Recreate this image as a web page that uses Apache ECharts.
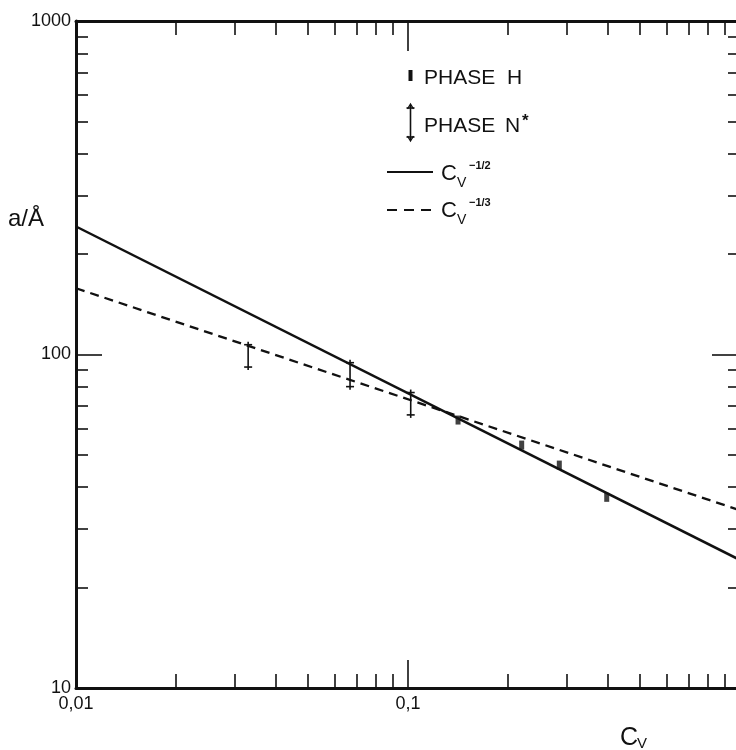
<!DOCTYPE html>
<html>
<head>
<meta charset="utf-8">
<script src="https://cdn.jsdelivr.net/npm/echarts@6/dist/echarts.min.js"></script>
<style>
  html, body { margin: 0; padding: 0; background: #fff; }
  #chart { width: 736px; height: 750px; }
</style>
</head>
<body>
<div id="chart"></div>
<script>
// ---- data ----
const xMinorTicks = [0.02, 0.03, 0.04, 0.05, 0.06, 0.07, 0.08, 0.09,
                     0.2, 0.3, 0.4, 0.5, 0.6, 0.7, 0.8, 0.9];
const xMajorTicks = [0.01, 0.1, 1];
const xLabelValues = [0.01, 0.1];
const xLabelTexts = ['0,01', '0,1'];

const yMinorTicks = [20, 30, 40, 50, 60, 70, 80, 90,
                     200, 300, 400, 500, 600, 700, 800, 900];
const yMajorTicks = [10, 100, 1000];
const yLabelValues = [10, 100, 1000];
const yLabelTexts = ['10', '100', '1000'];

// Phase H points [Cv, a]
const phaseH = [[0.1415, 63.6], [0.220, 53.5], [0.2856, 46.6], [0.3968, 37.3]];
// Phase N* error bars [Cv, low, high]
const phaseN = [[0.0330, 91.7, 107], [0.0669, 80.1, 94.5], [0.1019, 65.9, 76.9]];
// Reference lines (endpoints read at Cv = 0.01 and Cv = 1)
const lineHalf = [[0.01, 242], [1, 24.2]];
const lineThird = [[0.01, 158], [1, 34.1]];

// ---- chart ----
const INK = '#111';
const FONT = 'Liberation Sans, Arial, sans-serif';

function nearestText(v, values, texts) {
  let best = 0, bd = Infinity;
  values.forEach((t, i) => { const d = Math.abs(Math.log10(v) - Math.log10(t)); if (d < bd) { bd = d; best = i; } });
  return texts[best];
}

function mkAxis(pos, ticks, len, lineShow, labelValues, labelTexts, isX) {
  const ax = {
    type: 'log', logBase: 10, position: pos,
    min: isX ? 0.01 : 10, max: isX ? 1 : 1000,
    axisLine: { show: lineShow, onZero: false, lineStyle: { color: INK, width: 3 } },
    axisTick: { show: true, inside: true, length: len, customValues: ticks,
                lineStyle: { color: INK, width: 1.6 } },
    splitLine: { show: false },
    minorTick: { show: false }, minorSplitLine: { show: false },
    axisLabel: { show: false }
  };
  if (labelValues) {
    ax.axisLabel = {
      show: true, customValues: labelValues,
      formatter: v => nearestText(v, labelValues, labelTexts),
      color: INK, fontSize: 18, fontFamily: FONT,
      margin: isX ? 7 : 5
    };
  }
  return ax;
}

const chart = echarts.init(document.getElementById('chart'), null, { renderer: 'canvas' });

const legendGraphics = [
  // PHASE H
  { type: 'rect', shape: { x: 408.5, y: 70, width: 4, height: 11 }, style: { fill: INK } },
  { type: 'text', x: 424, y: 78, style: { text: 'PHASE', font: '21px ' + FONT, fill: INK, verticalAlign: 'middle' } },
  { type: 'text', x: 507, y: 78, style: { text: 'H', font: '21px ' + FONT, fill: INK, verticalAlign: 'middle' } },
  // PHASE N*
  { type: 'line', shape: { x1: 410.5, y1: 105, x2: 410.5, y2: 140 }, style: { stroke: INK, lineWidth: 1.6 } },
  { type: 'line', shape: { x1: 406.5, y1: 108, x2: 414.5, y2: 108 }, style: { stroke: INK, lineWidth: 1.6 } },
  { type: 'line', shape: { x1: 406.5, y1: 137, x2: 414.5, y2: 137 }, style: { stroke: INK, lineWidth: 1.6 } },
  { type: 'polyline', shape: { points: [[407.5, 109], [410.5, 104], [413.5, 109]] }, style: { stroke: INK, lineWidth: 1.4, fill: null } },
  { type: 'polyline', shape: { points: [[407.5, 136], [410.5, 141], [413.5, 136]] }, style: { stroke: INK, lineWidth: 1.4, fill: null } },
  { type: 'text', x: 424, y: 126, style: { text: 'PHASE', font: '21px ' + FONT, fill: INK, verticalAlign: 'middle' } },
  { type: 'text', x: 505, y: 126, style: { text: 'N', font: '21px ' + FONT, fill: INK, verticalAlign: 'middle' } },
  { type: 'text', x: 522, y: 121, style: { text: '*', font: 'bold 17px ' + FONT, fill: INK, verticalAlign: 'middle' } },
  // Cv^-1/2
  { type: 'line', shape: { x1: 387, y1: 172, x2: 433, y2: 172 }, style: { stroke: INK, lineWidth: 2.2 } },
  { type: 'text', x: 441, y: 174, style: { text: 'C', font: '22px ' + FONT, fill: INK, verticalAlign: 'middle' } },
  { type: 'text', x: 457, y: 183, style: { text: 'V', font: '14px ' + FONT, fill: INK, verticalAlign: 'middle' } },
  { type: 'text', x: 469, y: 166, style: { text: '−1/2', font: 'bold 11px ' + FONT, fill: INK, verticalAlign: 'middle' } },
  // Cv^-1/3
  { type: 'line', shape: { x1: 387, y1: 210, x2: 433, y2: 210 }, style: { stroke: INK, lineWidth: 2.2, lineDash: [10, 7] } },
  { type: 'text', x: 441, y: 211, style: { text: 'C', font: '22px ' + FONT, fill: INK, verticalAlign: 'middle' } },
  { type: 'text', x: 457, y: 220, style: { text: 'V', font: '14px ' + FONT, fill: INK, verticalAlign: 'middle' } },
  { type: 'text', x: 469, y: 203, style: { text: '−1/3', font: 'bold 11px ' + FONT, fill: INK, verticalAlign: 'middle' } },
  // axis titles
  { type: 'text', x: 8, y: 219, style: { text: 'a/Å', font: '24px ' + FONT, fill: INK, verticalAlign: 'middle' } },
  { type: 'text', x: 620, y: 738, style: { text: 'C', font: '25px ' + FONT, fill: INK, verticalAlign: 'middle' } },
  { type: 'text', x: 637, y: 744, style: { text: 'V', font: '15px ' + FONT, fill: INK, verticalAlign: 'middle' } }
];

const option = {
  backgroundColor: '#fff',
  animation: false,
  grid: { left: 76, top: 21, width: 664, height: 667, containLabel: false, outerBoundsMode: 'none' },
  xAxis: [
    mkAxis('bottom', xMinorTicks, 14, true, xLabelValues, xLabelTexts, true),
    mkAxis('bottom', xMajorTicks, 28, false, null, null, true),
    mkAxis('top', xMinorTicks, 14, true, null, null, true),
    mkAxis('top', xMajorTicks, 30, false, null, null, true)
  ],
  yAxis: [
    mkAxis('left', yMinorTicks, 12, true, yLabelValues, yLabelTexts, false),
    mkAxis('left', yMajorTicks, 26, false, null, null, false),
    mkAxis('right', yMinorTicks, 12, true, null, null, false),
    mkAxis('right', yMajorTicks, 28, false, null, null, false)
  ],
  graphic: legendGraphics,
  series: [
    {
      name: 'Cv^-1/2', type: 'line', data: lineHalf, showSymbol: false, symbol: 'none',
      lineStyle: { color: INK, width: 2.5 }, z: 2, silent: true
    },
    {
      name: 'Cv^-1/3', type: 'line', data: lineThird, showSymbol: false, symbol: 'none',
      lineStyle: { color: INK, width: 2.3, type: [9, 6] }, z: 2, silent: true
    },
    {
      name: 'PHASE H', type: 'scatter', data: phaseH, symbol: 'rect', symbolSize: [5, 9],
      itemStyle: { color: INK }, z: 4, silent: true
    },
    {
      name: 'PHASE N*', type: 'custom', data: phaseN, z: 5, silent: true,
      encode: { x: 0, y: [1, 2] },
      renderItem: function (params, api) {
        const x = api.value(0), lo = api.value(1), hi = api.value(2);
        const pHi = api.coord([x, hi]);
        const pLo = api.coord([x, lo]);
        const w = 4, st = { stroke: INK, lineWidth: 1.6 };
        return {
          type: 'group',
          children: [
            { type: 'line', shape: { x1: pHi[0], y1: pHi[1] - 3, x2: pLo[0], y2: pLo[1] + 3 }, style: st },
            { type: 'line', shape: { x1: pHi[0] - w, y1: pHi[1], x2: pHi[0] + w, y2: pHi[1] }, style: st },
            { type: 'line', shape: { x1: pLo[0] - w, y1: pLo[1], x2: pLo[0] + w, y2: pLo[1] }, style: st }
          ]
        };
      }
    }
  ]
};

chart.setOption(option);
</script>
</body>
</html>
